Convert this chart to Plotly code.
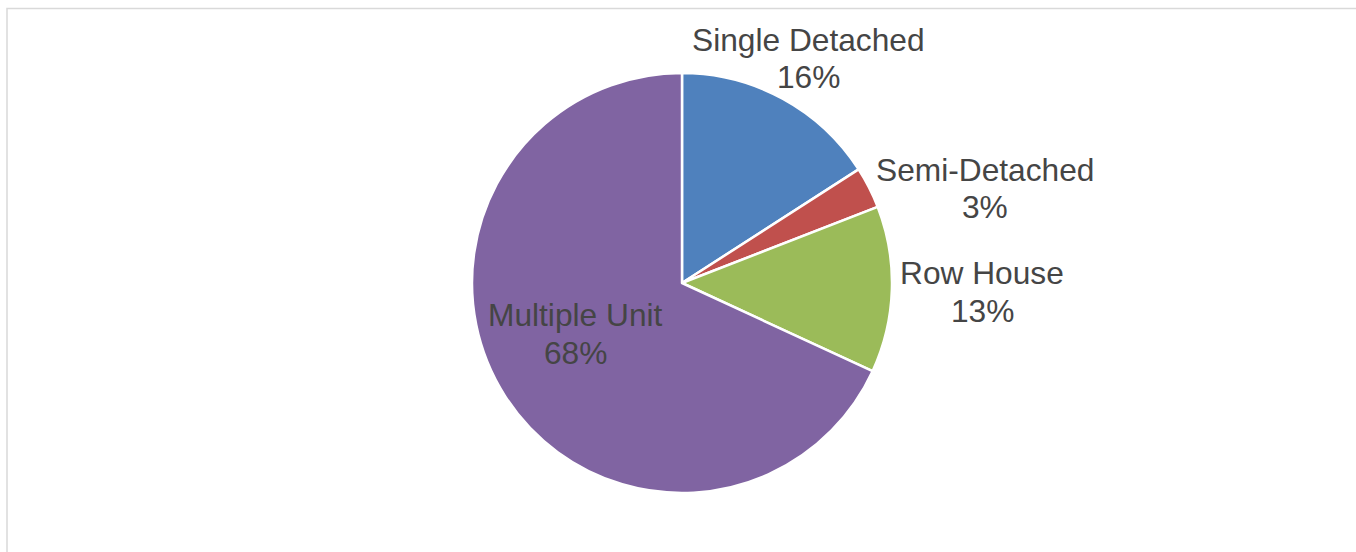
import plotly.graph_objects as go

# Dwelling type shares (percent)
categories = ["Single Detached", "Semi-Detached", "Row House", "Multiple Unit"]
values = [15.9, 3.2, 12.8, 68.1]
colors = ["#4F81BD", "#C0504D", "#9BBB59", "#8064A2"]

W, H = 1356, 552
cx, cy, r = 682, 283, 210

fig = go.Figure(
    go.Pie(
        labels=categories,
        values=values,
        sort=False,
        direction="clockwise",
        rotation=0,
        marker=dict(colors=colors, line=dict(color="white", width=2.5)),
        textinfo="none",
        hoverinfo="label+percent",
        showlegend=False,
        domain=dict(x=[(cx - r) / W, (cx + r) / W], y=[(H - cy - r) / H, (H - cy + r) / H]),
    )
)

# Label positions: (centre x, name line y, percent line y) in pixels
label_pos = [(808, 40, 77), (985, 170, 207), (982, 273, 311), (575, 315, 353)]
font = dict(family="Liberation Sans, Arial, sans-serif", size=31.7, color="#454545")
total = sum(values)
for name, v, (px, y1, y2) in zip(categories, values, label_pos):
    for txt, py in ((name, y1), (f"{round(v / total * 100)}%", y2)):
        fig.add_annotation(
            x=px / W, y=1 - py / H, xref="paper", yref="paper",
            text=txt, showarrow=False, xanchor="center", yanchor="middle",
            font=font,
        )

# Chart-area frame
fig.add_shape(
    type="rect", xref="paper", yref="paper",
    x0=7 / W, x1=1.02, y0=-0.05, y1=1 - 8.5 / H,
    line=dict(color="#D9D9D9", width=1.5), fillcolor="rgba(0,0,0,0)", layer="below",
)

fig.update_layout(
    width=W, height=H,
    margin=dict(l=0, r=0, t=0, b=0),
    paper_bgcolor="white", plot_bgcolor="white",
)

fig.write_html("out.html")
